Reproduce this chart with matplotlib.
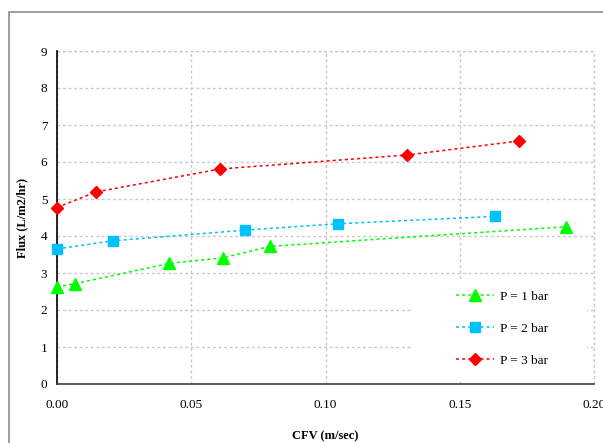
import matplotlib
matplotlib.use("Agg")
import matplotlib.pyplot as plt
from matplotlib.patches import Rectangle
from matplotlib.ticker import FormatStrFormatter

plt.rcParams['font.family'] = ['Liberation Serif', 'DejaVu Serif']

# Data
cfv_p1 = [0.0, 0.0067, 0.0418, 0.0618, 0.0793, 0.1896]
flux_p1 = [2.63, 2.71, 3.26, 3.41, 3.72, 4.25]
cfv_p2 = [0.0, 0.0208, 0.0702, 0.1045, 0.1630]
flux_p2 = [3.65, 3.87, 4.16, 4.33, 4.53]
cfv_p3 = [0.0, 0.0145, 0.0606, 0.1305, 0.1722]
flux_p3 = [4.77, 5.19, 5.81, 6.19, 6.57]
labels = ["P = 1 bar", "P = 2 bar", "P = 3 bar"]
x_ticks = [0.00, 0.05, 0.10, 0.15, 0.20]
y_ticks = list(range(0, 10))

fig = plt.figure(figsize=(6.03, 4.43), dpi=100)
# outer chart border
fig.patches.append(Rectangle((9/603, -0.05), 1.1, 1 - 12/443 + 0.05, transform=fig.transFigure,
                             fill=False, edgecolor='#8c8c8c', linewidth=1.2))
ax = fig.add_axes([57/603, 1 - 384/443, 537/603, 333/443])

ls = (0, (2, 2))
ax.plot(cfv_p1, flux_p1, linestyle=ls, color='#00ff00', linewidth=1.1,
        marker='^', markersize=8, markerfacecolor='#00ff00', markeredgecolor='#00ff00', label=labels[0], zorder=3, clip_on=False)
ax.plot(cfv_p2, flux_p2, linestyle=ls, color='#00c0ff', linewidth=1.1,
        marker='s', markersize=7, markerfacecolor='#00c0ff', markeredgecolor='#00c0ff', label=labels[1], zorder=3, clip_on=False)
ax.plot(cfv_p3, flux_p3, linestyle=ls, color='#ff0000', linewidth=1.1,
        marker='D', markersize=6, markerfacecolor='#ff0000', markeredgecolor='#ff0000', label=labels[2], zorder=3, clip_on=False)

ax.set_xlim(0, 0.20)
ax.set_ylim(0, 9)
ax.set_xticks(x_ticks)
ax.set_yticks(y_ticks)
ax.xaxis.set_major_formatter(FormatStrFormatter('%.2f'))
ax.tick_params(axis='both', length=0, labelsize=9.5, colors='black')
ax.tick_params(axis='y', pad=7)
ax.tick_params(axis='x', pad=11)
ax.grid(True, linestyle=ls, color='#c8c8c8', linewidth=1.0)
ax.set_axisbelow(True)

for s in ['top', 'right']:
    ax.spines[s].set_visible(False)
ax.spines['left'].set_color('black')
ax.spines['left'].set_linewidth(1.2)
ax.spines['bottom'].set_color('#404040')
ax.spines['bottom'].set_linewidth(1.2)
ax.axhline(9, color='#c8c8c8', linestyle=ls, linewidth=1.0, clip_on=False)
ax.axvline(0.20, color='#c8c8c8', linestyle=ls, linewidth=1.0, clip_on=False)

ax.set_xlabel("CFV (m/sec)", fontsize=9, fontweight='bold', labelpad=14)
ax.set_ylabel("Flux (L/m2/hr)", fontsize=9, fontweight='bold', labelpad=9)

# white legend background
ax.add_patch(Rectangle((0.661, 0.012), 0.326, 0.30, transform=ax.transAxes,
                       facecolor='white', edgecolor='none', zorder=1.5))

leg = ax.legend(loc='center left', bbox_to_anchor=(0.743, 0.166),
                frameon=False, fontsize=9.5, handlelength=2.9, labelspacing=1.5,
                borderpad=0, borderaxespad=0, handletextpad=0.45)

fig.savefig("out.png", dpi=100)
